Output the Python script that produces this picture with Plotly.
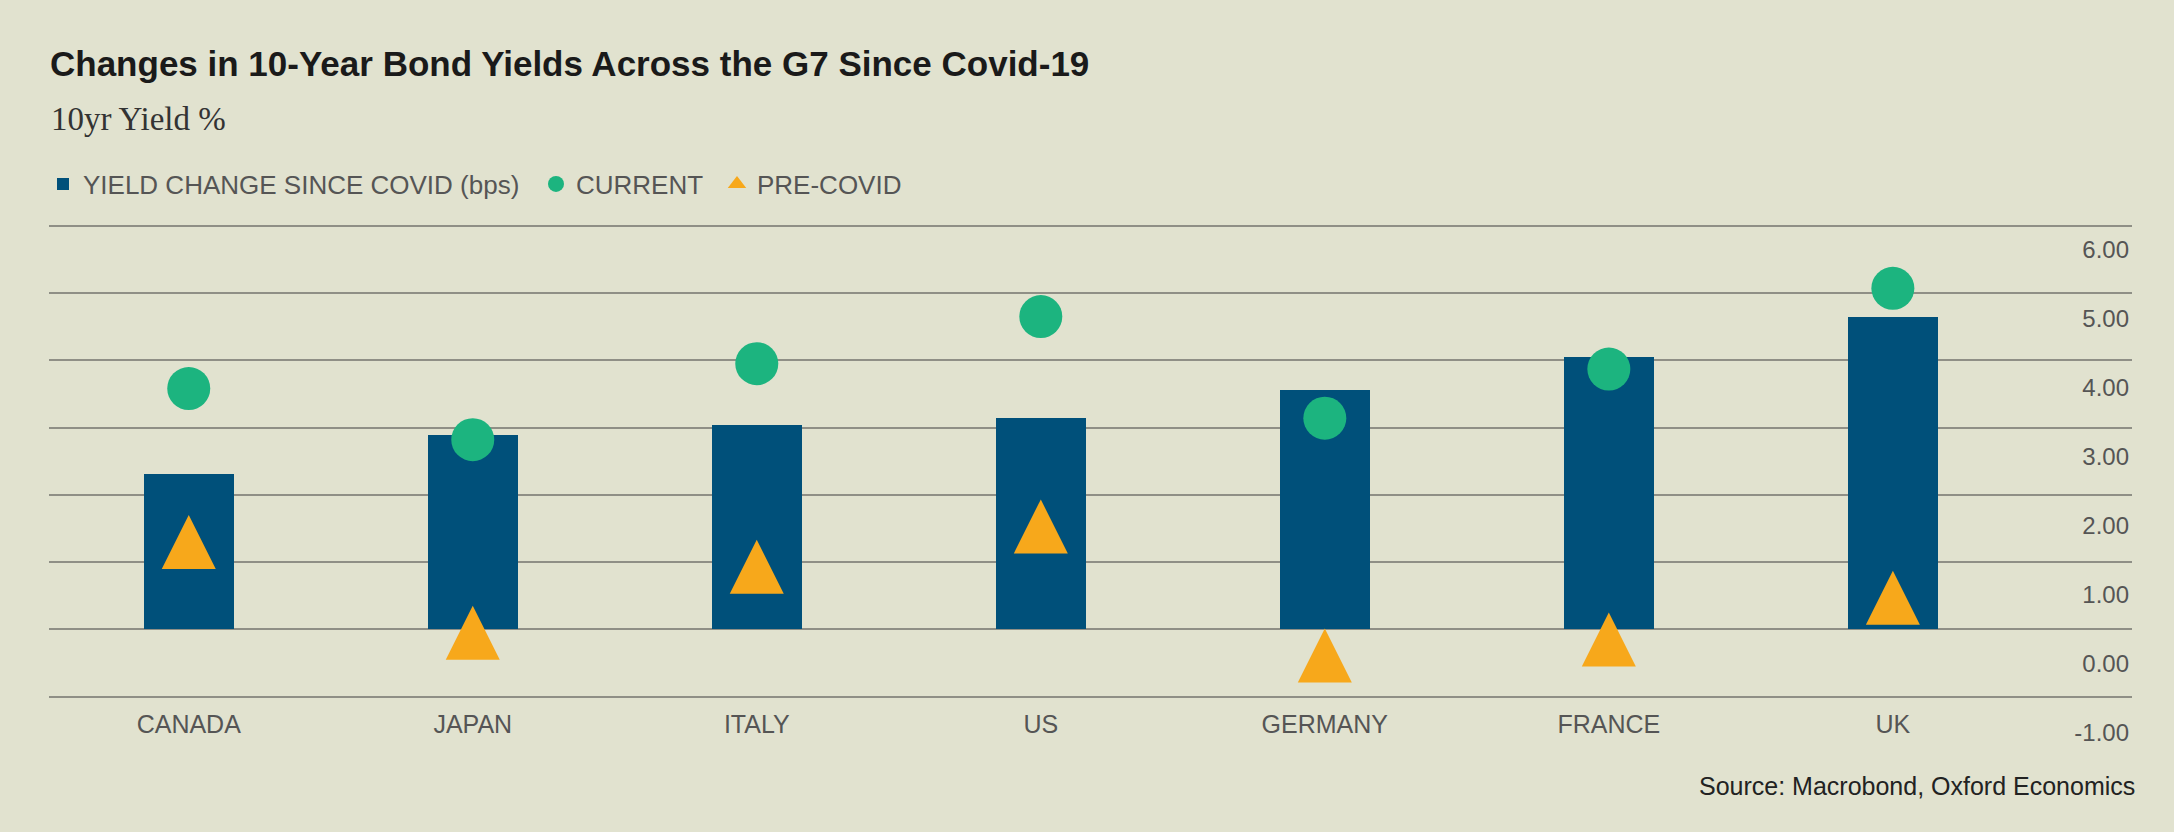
import plotly.graph_objects as go

# values
countries = ["CANADA", "JAPAN", "ITALY", "US", "GERMANY", "FRANCE", "UK"]
change_bps = [231, 288, 303, 314, 355, 405, 463]
current = [3.58, 2.82, 3.95, 4.65, 3.14, 3.87, 5.07]
pre_covid = [1.30, -0.05, 0.93, 1.53, -0.39, -0.15, 0.47]
y_ticks = [-1, 0, 1, 2, 3, 4, 5, 6]
y_tick_labels = [f"{v:.2f}" for v in y_ticks]

BG = "#e1e2cf"
BLUE = "#00507a"
GREEN = "#1cb47f"
ORANGE = "#f7a81b"
GREY_TXT = "#555555"
FONT = "Liberation Sans, Arial, sans-serif"

W, H = 2174, 832
PLOT_L, PLOT_R = 49, 2132
PLOT_TOP, PLOT_BOT = 220, 752

# main (gridline) scale: pixel of 0 and pixels per unit
ZERO_PX, UNIT_PX = 629.3, 67.25
Y_LO, Y_HI = -1.05, 6.05
# right hand labels sit on a slightly different scale
LAB_ZERO_PX, LAB_UNIT_PX = 664, 69.05
TRI_SIZE = 54


def frac(px):
    return (PLOT_BOT - px) / (PLOT_BOT - PLOT_TOP)


main_domain = [frac(ZERO_PX - Y_LO * UNIT_PX), frac(ZERO_PX - Y_HI * UNIT_PX)]
lab_range = [(LAB_ZERO_PX - PLOT_BOT) / LAB_UNIT_PX, (LAB_ZERO_PX - PLOT_TOP) / LAB_UNIT_PX]
# arrow-up markers have their tip on the point, so shift their axis by half a marker
tri_shift = TRI_SIZE / 2 / UNIT_PX

fig = go.Figure()

# bars (bps) on the base axis so they sit under the markers
fig.add_trace(go.Bar(
    x=countries, y=change_bps, yaxis="y",
    name="YIELD CHANGE SINCE COVID (bps)", legend="legend",
    marker=dict(color=BLUE, line=dict(width=0)),
    width=0.317,
))
fig.add_trace(go.Scatter(
    x=countries, y=current, yaxis="y3",
    mode="markers", name="CURRENT", legend="legend2",
    marker=dict(color=GREEN, size=43, line=dict(width=0)),
    cliponaxis=False,
))
fig.add_trace(go.Scatter(
    x=countries, y=pre_covid, yaxis="y4",
    mode="markers", name="PRE-COVID", showlegend=False,
    marker=dict(color=ORANGE, size=TRI_SIZE, symbol="arrow-up", line=dict(width=0)),
    cliponaxis=False,
))
# legend entry for the triangles
fig.add_trace(go.Scatter(
    x=[None], y=[None], yaxis="y4",
    mode="markers", name="PRE-COVID", legend="legend3",
    marker=dict(color=ORANGE, size=16, symbol="triangle-up"),
))
# carries the right hand tick labels
fig.add_trace(go.Scatter(
    x=[None] * len(y_ticks), y=y_ticks, yaxis="y2",
    mode="markers", showlegend=False, hoverinfo="skip",
    marker=dict(opacity=0),
))

legend_style = dict(
    orientation="h",
    xref="container", xanchor="left",
    y=1 - 184 / H, yref="container", yanchor="middle",
    font=dict(size=26, color=GREY_TXT),
    bgcolor="rgba(0,0,0,0)",
    itemsizing="trace",
)

fig.update_layout(
    width=W, height=H,
    margin=dict(l=PLOT_L, r=W - PLOT_R, t=PLOT_TOP, b=H - PLOT_BOT, pad=0),
    paper_bgcolor=BG,
    plot_bgcolor="rgba(0,0,0,0)",
    font=dict(family=FONT, color=GREY_TXT),
    bargap=0,
    title=dict(
        text="Changes in 10-Year Bond Yields Across the G7 Since Covid-19",
        font=dict(family=FONT, size=35, color="#1a1a1a", weight="bold"),
        x=50 / W, xref="container", xanchor="left",
        y=1 - 64 / H, yref="container", yanchor="middle",
    ),
    legend=dict(legend_style, x=43 / W),
    legend2=dict(legend_style, x=536 / W),
    legend3=dict(legend_style, x=717 / W),
    xaxis=dict(
        range=[-0.492, 6.842],
        showgrid=False, zeroline=False, showline=False, ticks="",
        tickfont=dict(size=25, color=GREY_TXT),
        ticklabelstandoff=7,
        anchor="y",
    ),
    yaxis=dict(
        domain=main_domain,
        range=[Y_LO * 100, Y_HI * 100],
        visible=False,
    ),
    yaxis2=dict(
        domain=[0, 1],
        anchor="x", side="right",
        range=lab_range,
        tickvals=y_ticks, ticktext=y_tick_labels,
        ticklabelposition="inside",
        tickfont=dict(size=24, color=GREY_TXT),
        showgrid=False, zeroline=False, showline=False, ticks="",
    ),
    yaxis3=dict(
        overlaying="y",
        range=[Y_LO, Y_HI],
        tickvals=y_ticks,
        showticklabels=False,
        showgrid=True, gridcolor="#8f8f86", gridwidth=1.6,
        zeroline=False, showline=False, ticks="",
    ),
    yaxis4=dict(
        overlaying="y",
        range=[Y_LO - tri_shift, Y_HI - tri_shift],
        visible=False,
    ),
    annotations=[
        dict(
            text="10yr Yield %",
            xref="paper", yref="paper",
            x=(49 - PLOT_L) / (PLOT_R - PLOT_L), xanchor="left",
            y=frac(119), yanchor="middle",
            showarrow=False,
            font=dict(family="Liberation Serif, DejaVu Serif, serif", size=33, color="#333333"),
        ),
        dict(
            text="Source: Macrobond, Oxford Economics",
            xref="paper", yref="paper",
            x=(2137 - PLOT_L) / (PLOT_R - PLOT_L), xanchor="right",
            y=frac(786), yanchor="middle",
            showarrow=False,
            font=dict(size=25, color="#222222"),
        ),
    ],
)

fig.write_html(
    "out.html",
    config={"displayModeBar": False},
    post_script="document.body.style.margin='0';",
)
